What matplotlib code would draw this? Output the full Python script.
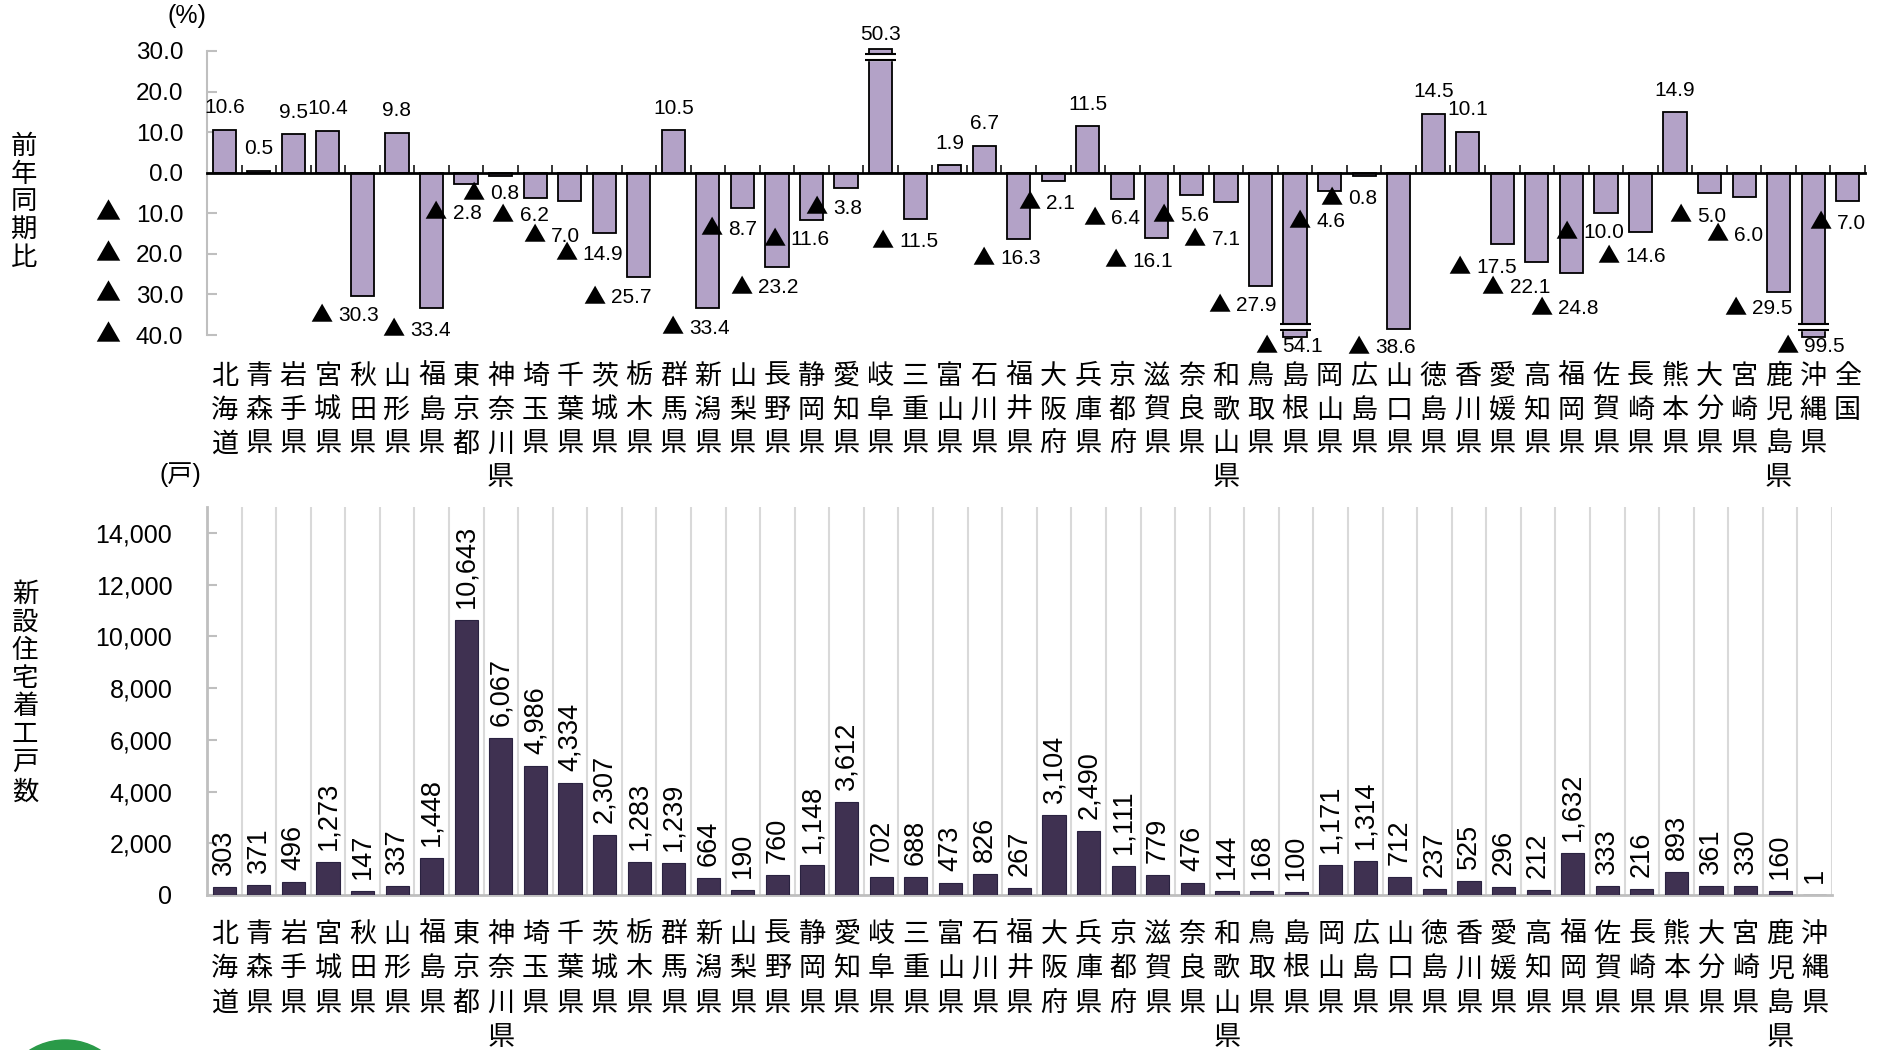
import numpy as np
import matplotlib
matplotlib.use('Agg')
import matplotlib.pyplot as plt
from matplotlib import font_manager
from matplotlib.patches import Ellipse
from matplotlib.ticker import FuncFormatter
from matplotlib.offsetbox import TextArea, HPacker, AnnotationBbox

# =============================================================================
# DATA
# =============================================================================
PREFS = ['北海道', '青森県', '岩手県', '宮城県', '秋田県', '山形県', '福島県',
         '東京都', '神奈川県', '埼玉県', '千葉県', '茨城県', '栃木県', '群馬県',
         '新潟県', '山梨県', '長野県', '静岡県', '愛知県', '岐阜県', '三重県',
         '富山県', '石川県', '福井県', '大阪府', '兵庫県', '京都府', '滋賀県',
         '奈良県', '和歌山県', '鳥取県', '島根県', '岡山県', '広島県', '山口県',
         '徳島県', '香川県', '愛媛県', '高知県', '福岡県', '佐賀県', '長崎県',
         '熊本県', '大分県', '宮崎県', '鹿児島県', '沖縄県']
YOY_NAMES = PREFS + ['全国']

# 前年同期比 (%)
YOY = [10.6, 0.5, 9.5, 10.4, -30.3, 9.8, -33.4,
       -2.8, -0.8, -6.2, -7.0, -14.9, -25.7, 10.5,
       -33.4, -8.7, -23.2, -11.6, -3.8, 50.3, -11.5,
       1.9, 6.7, -16.3, -2.1, 11.5, -6.4, -16.1,
       -5.6, -7.1, -27.9, -54.1, -4.6, -0.8, -38.6,
       14.5, 10.1, -17.5, -22.1, -24.8, -10.0, -14.6,
       14.9, -5.0, -6.0, -29.5, -99.5, -7.0]

# 新設住宅着工戸数 (戸)
STARTS = [303, 371, 496, 1273, 147, 337, 1448,
          10643, 6067, 4986, 4334, 2307, 1283, 1239,
          664, 190, 760, 1148, 3612, 702, 688,
          473, 826, 267, 3104, 2490, 1111, 779,
          476, 144, 168, 100, 1171, 1314, 712,
          237, 525, 296, 212, 1632, 333, 216,
          893, 361, 330, 160, 1]

# =============================================================================
# CONFIG
# =============================================================================
W, H, DPI = 1887, 1050, 100
PX = 72 / DPI                      # pixels -> points

YOY_TOP, YOY_BOTTOM = 30, -40
BAR_W = 0.67
YOY_COLOR = '#B3A2C7'
STARTS_COLOR = '#3F3151'
AXIS_GRAY = '#BFBFBF'
GRID_GRAY = '#D9D9D9'
CJK = 'Noto Sans CJK JP'

# hand-placed offsets (px) of the negative labels from the bar end
NEG_SHIFT = {
    '秋田県': (-18, 20), '福島県': (-15, 22), '東京都': (-13, 29),
    '神奈川県': (-10, 18), '埼玉県': (-15, 18), '千葉県': (-18, 35),
    '茨城県': (-15, 21), '栃木県': (-21, 21), '新潟県': (-12, 20),
    '山梨県': (-14, 21), '長野県': (-13, 21), '静岡県': (-15, 20),
    '愛知県': (-12, 20), '三重県': (-10, 22), '福井県': (-12, 20),
    '大阪府': (-7, 22), '京都府': (-11, 20), '滋賀県': (-18, 23),
    '奈良県': (-11, 20), '和歌山県': (-14, 38), '鳥取県': (-18, 20),
    '島根県': (-6, 12), '岡山県': (-13, 30), '広島県': (-15, 23),
    '山口県': (-17, 18), '愛媛県': (-20, 24), '高知県': (-21, 25),
    '福岡県': (-7, 35), '佐賀県': (-16, 19), '長崎県': (-9, 25),
    '大分県': (-12, 23), '宮崎県': (-9, 38), '鹿児島県': (-20, 16),
    '沖縄県': (-3, 12), '全国': (-10, 22),
}

_installed = {f.name for f in font_manager.fontManager.ttflist}
LATIN = 'Liberation Sans' if 'Liberation Sans' in _installed else 'DejaVu Sans'
plt.rcParams['font.family'] = [LATIN, CJK, 'DejaVu Sans']


def stack_names(ax, names, first_px, pitch_px, size):
    """Write each category name vertically, one character per row."""
    for i, name in enumerate(names):
        for j, ch in enumerate(name):
            ax.annotate(ch, (i, 0), xycoords=('data', 'axes fraction'),
                        xytext=(0, -(first_px + j * pitch_px) * PX),
                        textcoords='offset points', ha='center', va='center',
                        fontsize=size, annotation_clip=False)


def stack_fig_text(fig, text, x_px, y0_px, pitch_px, size):
    for j, ch in enumerate(text):
        fig.text(x_px / W, 1 - (y0_px + j * pitch_px) / H, ch,
                 ha='center', va='center', fontsize=size)


def neg_label(ax, x, y, value, dx, dy, size):
    """'▲ n.n' label: the triangle comes from the CJK face (full width)."""
    tri = TextArea('▲', textprops=dict(family=CJK, fontsize=size + 1))
    num = TextArea(f"{value:.1f}", textprops=dict(fontsize=size))
    box = HPacker(children=[tri, num], align='center', pad=0, sep=4)
    ab = AnnotationBbox(box, (x, y), xybox=(dx, dy),
                        boxcoords='offset points', frameon=False,
                        box_alignment=(0.5, 0.5), annotation_clip=False,
                        zorder=7)
    ax.add_artist(ab)


fig = plt.figure(figsize=(W / DPI, H / DPI), dpi=DPI)

# =============================================================================
# TOP — 前年同期比
# =============================================================================
ax = fig.add_axes([207 / W, 1 - 335 / H, 1658 / W, 284 / H])
x1 = np.arange(len(YOY))
heights = np.clip(YOY, YOY_BOTTOM - 0.5, YOY_TOP + 0.5)
ax.bar(x1, heights, width=BAR_W, color=YOY_COLOR, edgecolor='black',
       linewidth=1.3, clip_on=False, zorder=3)

ax.set_xlim(-0.5, len(YOY) - 0.5)
ax.set_ylim(YOY_BOTTOM, YOY_TOP)
yt = np.arange(YOY_BOTTOM, YOY_TOP + 1, 10)
ax.set_yticks(yt)
ax.yaxis.set_major_formatter(FuncFormatter(lambda v, p: f"{abs(v):.1f}"))
ax.tick_params(axis='y', direction='in', length=7, width=1.5,
               color=AXIS_GRAY, labelsize=17.5, pad=17)
# triangles in front of the negative tick values
for v in yt[yt < 0]:
    ax.annotate('▲', (0, v), xycoords=('axes fraction', 'data'),
                xytext=(-(207 - 108) * PX, 0), textcoords='offset points',
                ha='center', va='center', family=CJK, fontsize=18,
                annotation_clip=False)

ax.spines['bottom'].set_position(('data', 0))
ax.spines['bottom'].set_linewidth(2)
ax.spines['bottom'].set_zorder(4)
ax.spines['left'].set_color(AXIS_GRAY)
ax.spines['left'].set_linewidth(1.5)
for s in ['top', 'right']:
    ax.spines[s].set_visible(False)
ax.set_xticks([])
ax.set_xticks(np.arange(len(YOY) + 1) - 0.5, minor=True)
ax.tick_params(axis='x', which='minor', direction='in', length=6,
               width=1.1, color='black', labelbottom=False)

# break marks on the bars that run past the axis
for i, v in enumerate(YOY):
    if v > YOY_TOP or v < YOY_BOTTOM:
        y1, y2 = (29.3, 27.9) if v > 0 else (-37.2, -38.7)
        ax.fill_between([i - 0.45, i + 0.45], y2, y1, color='white',
                        zorder=5, clip_on=False)
        ax.hlines([y1, y2], i - 0.45, i + 0.45, color='black', lw=1.5,
                  zorder=6, clip_on=False)

# value labels
for i, (name, v) in enumerate(zip(YOY_NAMES, YOY)):
    if v >= 0:
        dy = 16 if v > YOY_TOP else 22
        ax.annotate(f"{v:.1f}", (i, min(v, YOY_TOP)), xytext=(0, dy * PX),
                    textcoords='offset points', ha='center', va='center',
                    fontsize=15, annotation_clip=False, zorder=7)
    else:
        dx, dy = NEG_SHIFT.get(name, (-12, 20))
        neg_label(ax, i, max(v, YOY_BOTTOM), -v, dx * PX, -dy * PX, 15)

stack_names(ax, YOY_NAMES, 42, 33.7, 19.5)
fig.text(187 / W, 1 - 16 / H, '(%)', ha='center', va='center', fontsize=18)
stack_fig_text(fig, '前年同期比', 24, 147, 27.7, 19)

# =============================================================================
# BOTTOM — 新設住宅着工戸数
# =============================================================================
ax2 = fig.add_axes([207 / W, 1 - 895 / H, 1625 / W, 388 / H])
x2 = np.arange(len(STARTS))
ax2.bar(x2, STARTS, width=BAR_W, color=STARTS_COLOR, edgecolor='#2A2240',
        linewidth=0.8, zorder=3)
ax2.set_xlim(-0.5, len(STARTS) - 0.5)
ax2.set_ylim(0, 15000)
ax2.set_yticks(np.arange(0, 14001, 2000))
ax2.yaxis.set_major_formatter(FuncFormatter(lambda v, p: f"{int(v):,}"))
ax2.tick_params(axis='y', direction='in', length=7, width=1.5,
                color=AXIS_GRAY, labelsize=18, pad=25)
ax2.set_xticks([])
ax2.set_xticks(np.arange(len(STARTS) + 1) - 0.5, minor=True)
ax2.tick_params(axis='x', which='minor', length=0, labelbottom=False)
ax2.grid(True, which='minor', axis='x', color=GRID_GRAY, lw=1.5)
ax2.set_axisbelow(True)
for s in ['left', 'bottom']:
    ax2.spines[s].set_color(AXIS_GRAY)
    ax2.spines[s].set_linewidth(2)
for s in ['top', 'right']:
    ax2.spines[s].set_visible(False)

for i, v in enumerate(STARTS):
    ax2.annotate(f"{v:,}", (i, v), xytext=(0, 12 * PX),
                 textcoords='offset points', ha='center', va='bottom',
                 rotation=90, fontsize=19.5, annotation_clip=False)

stack_names(ax2, PREFS, 40, 34.3, 19.5)
fig.text(180 / W, 1 - 475 / H, '(戸)', ha='center', va='center', fontsize=18)
stack_fig_text(fig, '新設住宅着工戸数', 25, 594, 28.3, 19)

# logo mark peeking in at the lower left
fig.add_artist(Ellipse((65 / W, 1 - 1106 / H), 132 / W, 132 / H,
                       transform=fig.transFigure, color='#2A9A48'))

fig.savefig('out.png', dpi=DPI)
plt.close(fig)
